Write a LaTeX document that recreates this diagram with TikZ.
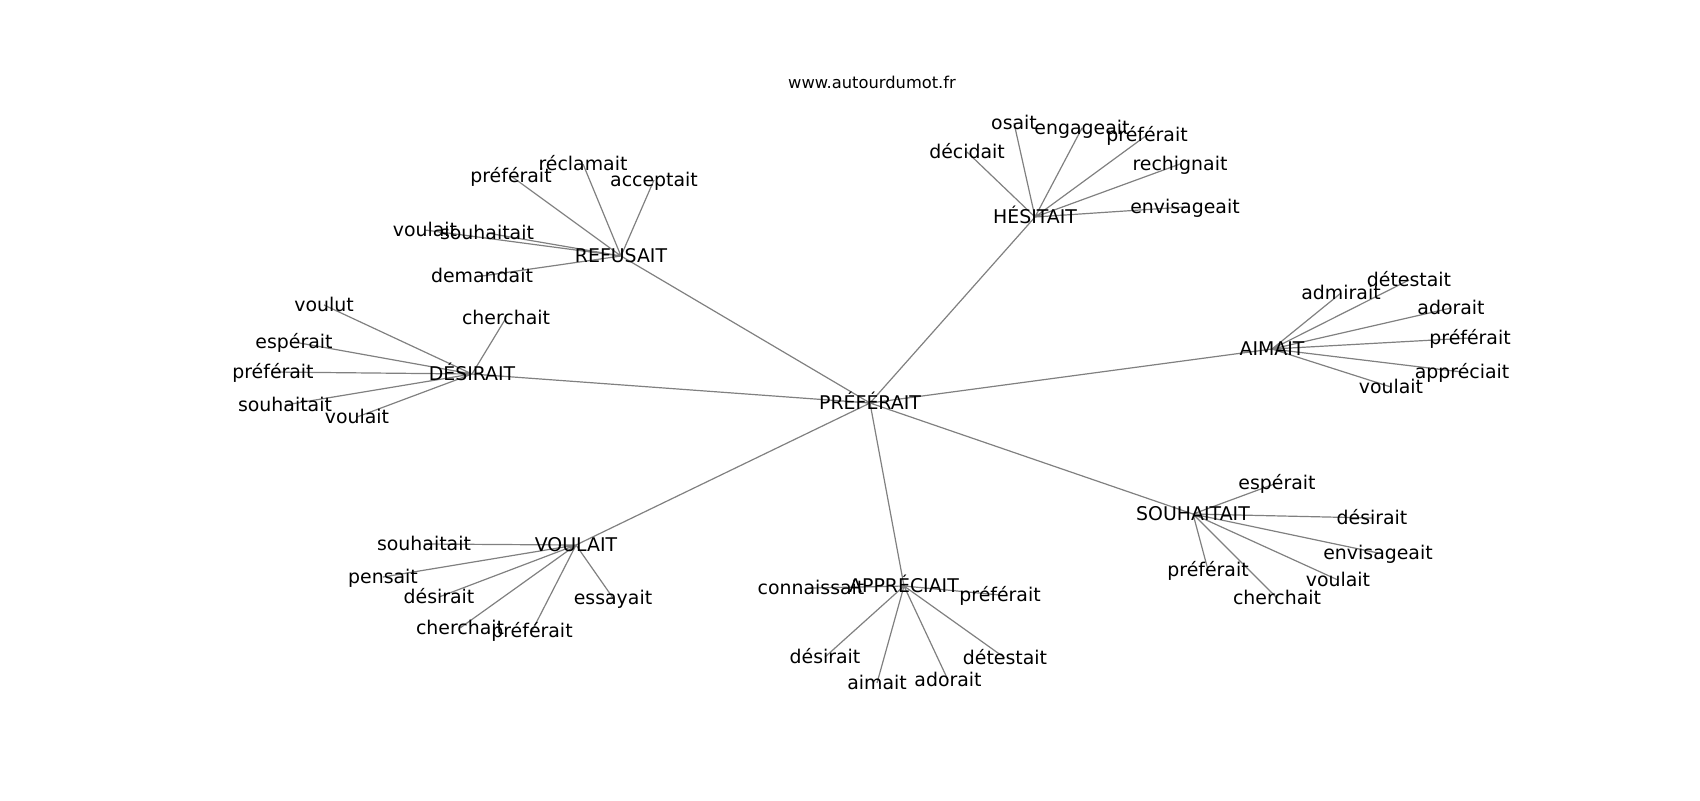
\documentclass[tikz,border=0pt]{standalone}
\usepackage{fontspec}
\setmainfont{DejaVu Sans}
\usetikzlibrary{backgrounds}

\begin{document}
\begin{tikzpicture}[x=0.5pt, y=-0.5pt,
	word/.style={inner sep=0pt, text height=0.8em, text depth=0.2em, font=\fontsize{9.45}{11}\selectfont},
	edge/.style={draw=gray, line width=0.6pt}]

\useasboundingbox (0, 0) rectangle (1700, 800);

\node[word, font=\fontsize{8.15}{10}\selectfont] (site) at (872, 82) {www.autourdumot.fr};

\node[word] (pref) at (870, 403) {PRÉFÉRAIT};

\node[word] (refus) at (621, 256) {REFUSAIT};
\node[word] (refus1) at (511, 176) {préférait};
\node[word] (refus2) at (583, 164) {réclamait};
\node[word] (refus3) at (654, 180) {acceptait};
\node[word] (refus4) at (425, 230) {voulait};
\node[word] (refus5) at (487, 233) {souhaitait};
\node[word] (refus6) at (482, 276) {demandait};

\node[word] (hesit) at (1035, 217) {HÉSITAIT};
\node[word] (hesit1) at (967, 152) {décidait};
\node[word] (hesit2) at (1014, 123) {osait};
\node[word] (hesit3) at (1082, 128) {engageait};
\node[word] (hesit4) at (1147, 135) {préférait};
\node[word] (hesit5) at (1180, 164) {rechignait};
\node[word] (hesit6) at (1185, 207) {envisageait};

\node[word] (desir) at (472, 374) {DÉSIRAIT};
\node[word] (desir1) at (324, 305) {voulut};
\node[word] (desir2) at (506, 318) {cherchait};
\node[word] (desir3) at (294, 342) {espérait};
\node[word] (desir4) at (273, 372) {préférait};
\node[word] (desir5) at (285, 405) {souhaitait};
\node[word] (desir6) at (357, 417) {voulait};

\node[word] (aimait) at (1272, 349) {AIMAIT};
\node[word] (aimait1) at (1341, 293) {admirait};
\node[word] (aimait2) at (1409, 280) {détestait};
\node[word] (aimait3) at (1451, 308) {adorait};
\node[word] (aimait4) at (1470, 338) {préférait};
\node[word] (aimait5) at (1462, 372) {appréciait};
\node[word] (aimait6) at (1391, 387) {voulait};

\node[word] (voul) at (576, 545) {VOULAIT};
\node[word] (voul1) at (424, 544) {souhaitait};
\node[word] (voul2) at (383, 577) {pensait};
\node[word] (voul3) at (439, 597) {désirait};
\node[word] (voul4) at (460, 628) {cherchait};
\node[word] (voul5) at (532, 631) {préférait};
\node[word] (voul6) at (613, 598) {essayait};

\node[word] (appr) at (904, 586) {APPRÉCIAIT};
\node[word] (appr1) at (811, 588) {connaissait};
\node[word] (appr2) at (1000, 595) {préférait};
\node[word] (appr3) at (825, 657) {désirait};
\node[word] (appr4) at (877, 683) {aimait};
\node[word] (appr5) at (948, 680) {adorait};
\node[word] (appr6) at (1005, 658) {détestait};

\node[word] (souh) at (1193, 514) {SOUHAITAIT};
\node[word] (souh1) at (1277, 483) {espérait};
\node[word] (souh2) at (1372, 518) {désirait};
\node[word] (souh3) at (1378, 553) {envisageait};
\node[word] (souh4) at (1338, 580) {voulait};
\node[word] (souh5) at (1208, 570) {préférait};
\node[word] (souh6) at (1277, 598) {cherchait};

\begin{scope}[on background layer]
\draw[edge] (pref.center) -- (refus.center) (pref.center) -- (hesit.center)
	(pref.center) -- (desir.center) (pref.center) -- (aimait.center)
	(pref.center) -- (voul.center) (pref.center) -- (appr.center)
	(pref.center) -- (souh.center);

\draw[edge] (refus.center) -- (refus1.center) (refus.center) -- (refus2.center)
	(refus.center) -- (refus3.center) (refus.center) -- (refus4.center)
	(refus.center) -- (refus5.center) (refus.center) -- (refus6.center);

\draw[edge] (hesit.center) -- (hesit1.center) (hesit.center) -- (hesit2.center)
	(hesit.center) -- (hesit3.center) (hesit.center) -- (hesit4.center)
	(hesit.center) -- (hesit5.center) (hesit.center) -- (hesit6.center);

\draw[edge] (desir.center) -- (desir1.center) (desir.center) -- (desir2.center)
	(desir.center) -- (desir3.center) (desir.center) -- (desir4.center)
	(desir.center) -- (desir5.center) (desir.center) -- (desir6.center);

\draw[edge] (aimait.center) -- (aimait1.center) (aimait.center) -- (aimait2.center)
	(aimait.center) -- (aimait3.center) (aimait.center) -- (aimait4.center)
	(aimait.center) -- (aimait5.center) (aimait.center) -- (aimait6.center);

\draw[edge] (voul.center) -- (voul1.center) (voul.center) -- (voul2.center)
	(voul.center) -- (voul3.center) (voul.center) -- (voul4.center)
	(voul.center) -- (voul5.center) (voul.center) -- (voul6.center);

\draw[edge] (appr.center) -- (appr1.center) (appr.center) -- (appr2.center)
	(appr.center) -- (appr3.center) (appr.center) -- (appr4.center)
	(appr.center) -- (appr5.center) (appr.center) -- (appr6.center);

\draw[edge] (souh.center) -- (souh1.center) (souh.center) -- (souh2.center)
	(souh.center) -- (souh3.center) (souh.center) -- (souh4.center)
	(souh.center) -- (souh5.center) (souh.center) -- (souh6.center);
\end{scope}

\end{tikzpicture}
\end{document}
